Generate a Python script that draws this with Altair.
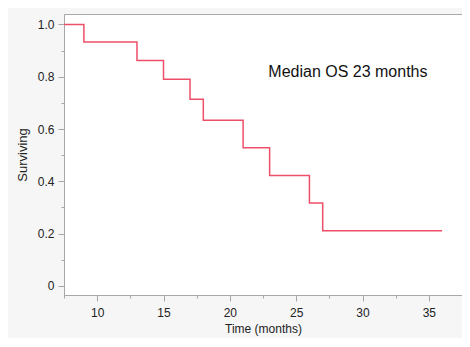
import altair as alt
import pandas as pd

times = [0, 9, 13, 15, 17, 18, 21, 23, 26, 27, 36]
surviving = [1.0, 0.933, 0.862, 0.790, 0.714, 0.634, 0.528, 0.422, 0.317, 0.211, 0.211]

note_text = ["Median OS 23 months"]
note_x = [22.9]
note_y = [0.817]

x_major = [10, 15, 20, 25, 30, 35]
x_minor = [7.5, 12.5, 17.5, 22.5, 27.5, 32.5, 37.5]
y_major = [0, 0.2, 0.4, 0.6, 0.8, 1.0]
y_minor = [0.1, 0.3, 0.5, 0.7, 0.9]

df = pd.DataFrame({"time": times, "surv": surviving})
note = pd.DataFrame({"x": note_x, "y": note_y, "t": note_text})

FONT = "Liberation Sans"
AX = "#a8a8a8"

xscale = alt.Scale(domain=[7.5, 37.5], nice=False, zero=False)
yscale = alt.Scale(domain=[-0.035, 1.04], nice=False, zero=False)

common = dict(grid=False, domainColor=AX, tickColor=AX, labelColor="#222",
              titleColor="#222", labelFont=FONT, titleFont=FONT,
              labelFontSize=12, titleFontWeight="normal")

xaxis = alt.Axis(title="Time (months)", values=x_major, orient="bottom",
                 tickSize=6, labelPadding=6, titlePadding=5, titleFontSize=12,
                 labelOverlap=False, labelFlush=False, **common)
yaxis = alt.Axis(title="Surviving", values=y_major, orient="left",
                 labelExpr="datum.value == 0 ? '0' : format(datum.value, '.1f')",
                 tickSize=6, labelPadding=4, titlePadding=8, titleFontSize=13,
                 labelOverlap=False, labelFlush=False, **common)
xaxis_minor = alt.Axis(title=None, values=x_minor, orient="bottom", labels=False,
                       tickSize=3, domain=False, grid=False, tickColor=AX)
yaxis_minor = alt.Axis(title=None, values=y_minor, orient="left", labels=False,
                       tickSize=3, domain=False, grid=False, tickColor=AX)

line = alt.Chart(df).mark_line(
    interpolate="step-after", color="#ee4f68", strokeWidth=1.5, clip=True
).encode(
    x=alt.X("time:Q", scale=xscale, axis=xaxis),
    y=alt.Y("surv:Q", scale=yscale, axis=yaxis),
)

ghost = alt.Chart(df).mark_line(opacity=0, clip=True).encode(
    x=alt.X("time:Q", scale=xscale, axis=xaxis_minor),
    y=alt.Y("surv:Q", scale=yscale, axis=yaxis_minor),
)

text = alt.Chart(note).mark_text(
    align="left", baseline="middle", font=FONT, fontSize=16, color="#111"
).encode(
    x=alt.X("x:Q", scale=xscale, axis=None),
    y=alt.Y("y:Q", scale=yscale, axis=None),
    text="t:N",
)

chart = alt.layer(line, ghost, text).resolve_axis(
    x="independent", y="independent"
).properties(
    width=398, height=281,
    autosize=alt.AutoSizeParams(type="none"),
    padding={"left": 56, "top": 6, "right": 0, "bottom": 43},
    background="#f6f6f6",
).configure_view(stroke=AX, strokeWidth=1, fill="white")

chart.save("out.html", embed_options={"renderer": "svg", "actions": False})
